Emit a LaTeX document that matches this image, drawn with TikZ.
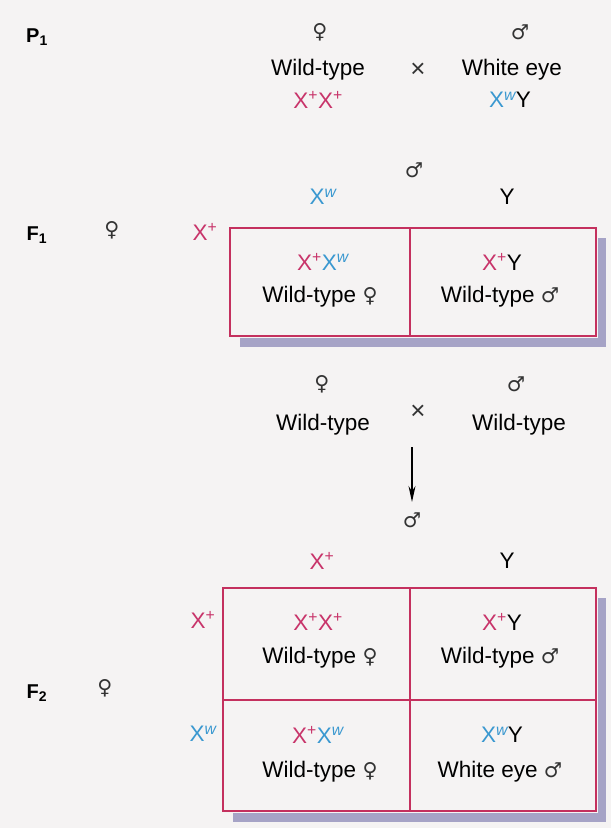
\documentclass[tikz,border=0pt]{standalone}
\usepackage{fontspec}
\setmainfont{Liberation Sans}
\newfontfamily\symfont{DejaVu Sans}
\usetikzlibrary{arrows.meta}
\definecolor{bg}{HTML}{F5F3F3}
\definecolor{mag}{HTML}{C8346A}
\definecolor{wblue}{HTML}{3A98D0}
\definecolor{boxc}{HTML}{C4305E}
\definecolor{shad}{HTML}{A6A3C6}
\definecolor{symc}{HTML}{333333}
\newcommand{\Xp}{\textcolor{mag}{X\textsuperscript{+}}}
\newcommand{\Xw}{\textcolor{wblue}{X\textsuperscript{\itshape w}}}
\newcommand{\fem}{{\symfont\fontsize{20.5}{22}\selectfont\color{symc}♀}}
\newcommand{\mal}{{\symfont\fontsize{20.5}{22}\selectfont\color{symc}♂}}
\begin{document}
\begin{tikzpicture}[x=1pt,y=-1pt,
  txt/.style={font=\fontsize{22.5}{24}\selectfont, inner sep=0pt, anchor=center},
  crs/.style={font=\fontsize{26}{28}\selectfont, text=symc, inner sep=0pt},
  gen/.style={font=\fontsize{20}{22}\selectfont\bfseries, inner sep=0pt},
  sym/.style={inner sep=0pt},
  pbox/.style={draw=boxc, line width=1.6pt},
  shadow/.style={fill=shad, draw=none}]
\fill[bg] (0,0) rectangle (611,828);
\useasboundingbox (0,0) rectangle (611,828);

% P1
\node[gen] (P1) at (37,37) {P\textsubscript{1}};
\node[sym] (p1f) at (320,32) {\fem};
\node[sym] (p1m) at (520,32) {\mal};
\node[txt] (p1fw) at (318,70) {Wild-type};
\node[crs] (p1x) at (418,70) {×};
\node[txt] (p1mw) at (512,70) {White eye};
\node[txt] (p1fg) at (318,100) {\Xp\Xp};
\node[txt] (p1mg) at (510,100) {\Xw Y};

% F1 gametes
\node[sym] (f1m) at (414,170) {\mal};
\node[txt] (f1xw) at (323,197) {\Xw};
\node[txt] (f1y) at (507,197) {Y};
\node[gen] (F1) at (37,235) {F\textsubscript{1}};
\node[sym] (f1f) at (112,230) {\fem};
\node[txt] (f1xp) at (205,232) {\Xp};

% F1 box
\fill[shadow] (240,338) rectangle (606,347);
\fill[shadow] (598,238) rectangle (606,347);
\draw[pbox, fill=bg] (230,228) rectangle (596,336);
\draw[pbox] (410,228) -- (410,336);
\node[txt] (c11g) at (323,262) {\Xp\Xw};
\node[txt] (c11p) at (320,297) {Wild-type \fem};
\node[txt] (c12g) at (502,262) {\Xp Y};
\node[txt] (c12p) at (500,297) {Wild-type \mal};

% second cross
\node[sym] (c2f) at (322,384) {\fem};
\node[sym] (c2m) at (516,384) {\mal};
\node[txt] (c2fw) at (323,425) {Wild-type};
\node[crs] (c2x) at (418,412) {×};
\node[txt] (c2mw) at (519,425) {Wild-type};
\coordinate (arrS) at (412,447);
\coordinate (arrE) at (412,502);
\draw[line width=1.3pt, -{Stealth[length=16pt,width=7pt]}] (arrS) -- (arrE);

% F2 gametes
\node[sym] (f2m) at (412,520) {\mal};
\node[txt] (f2xp) at (322,561) {\Xp};
\node[txt] (f2y) at (507,561) {Y};
\node[gen] (F2) at (37,693) {F\textsubscript{2}};
\node[sym] (f2f) at (105,688) {\fem};
\node[txt] (f2r1) at (203,620) {\Xp};
\node[txt] (f2r2) at (203,734) {\Xw};

% F2 box
\fill[shadow] (233,813) rectangle (606,822);
\fill[shadow] (598,598) rectangle (606,822);
\draw[pbox, fill=bg] (223,588) rectangle (596,811);
\draw[pbox] (410,588) -- (410,811);
\draw[pbox] (223,700) -- (596,700);
\node[txt] (d11g) at (318,622) {\Xp\Xp};
\node[txt] (d11p) at (320,658) {Wild-type \fem};
\node[txt] (d12g) at (502,622) {\Xp Y};
\node[txt] (d12p) at (500,658) {Wild-type \mal};
\node[txt] (d21g) at (318,735) {\Xp\Xw};
\node[txt] (d21p) at (320,772) {Wild-type \fem};
\node[txt] (d22g) at (502,735) {\Xw Y};
\node[txt] (d22p) at (500,772) {White eye \mal};
\end{tikzpicture}
\end{document}
